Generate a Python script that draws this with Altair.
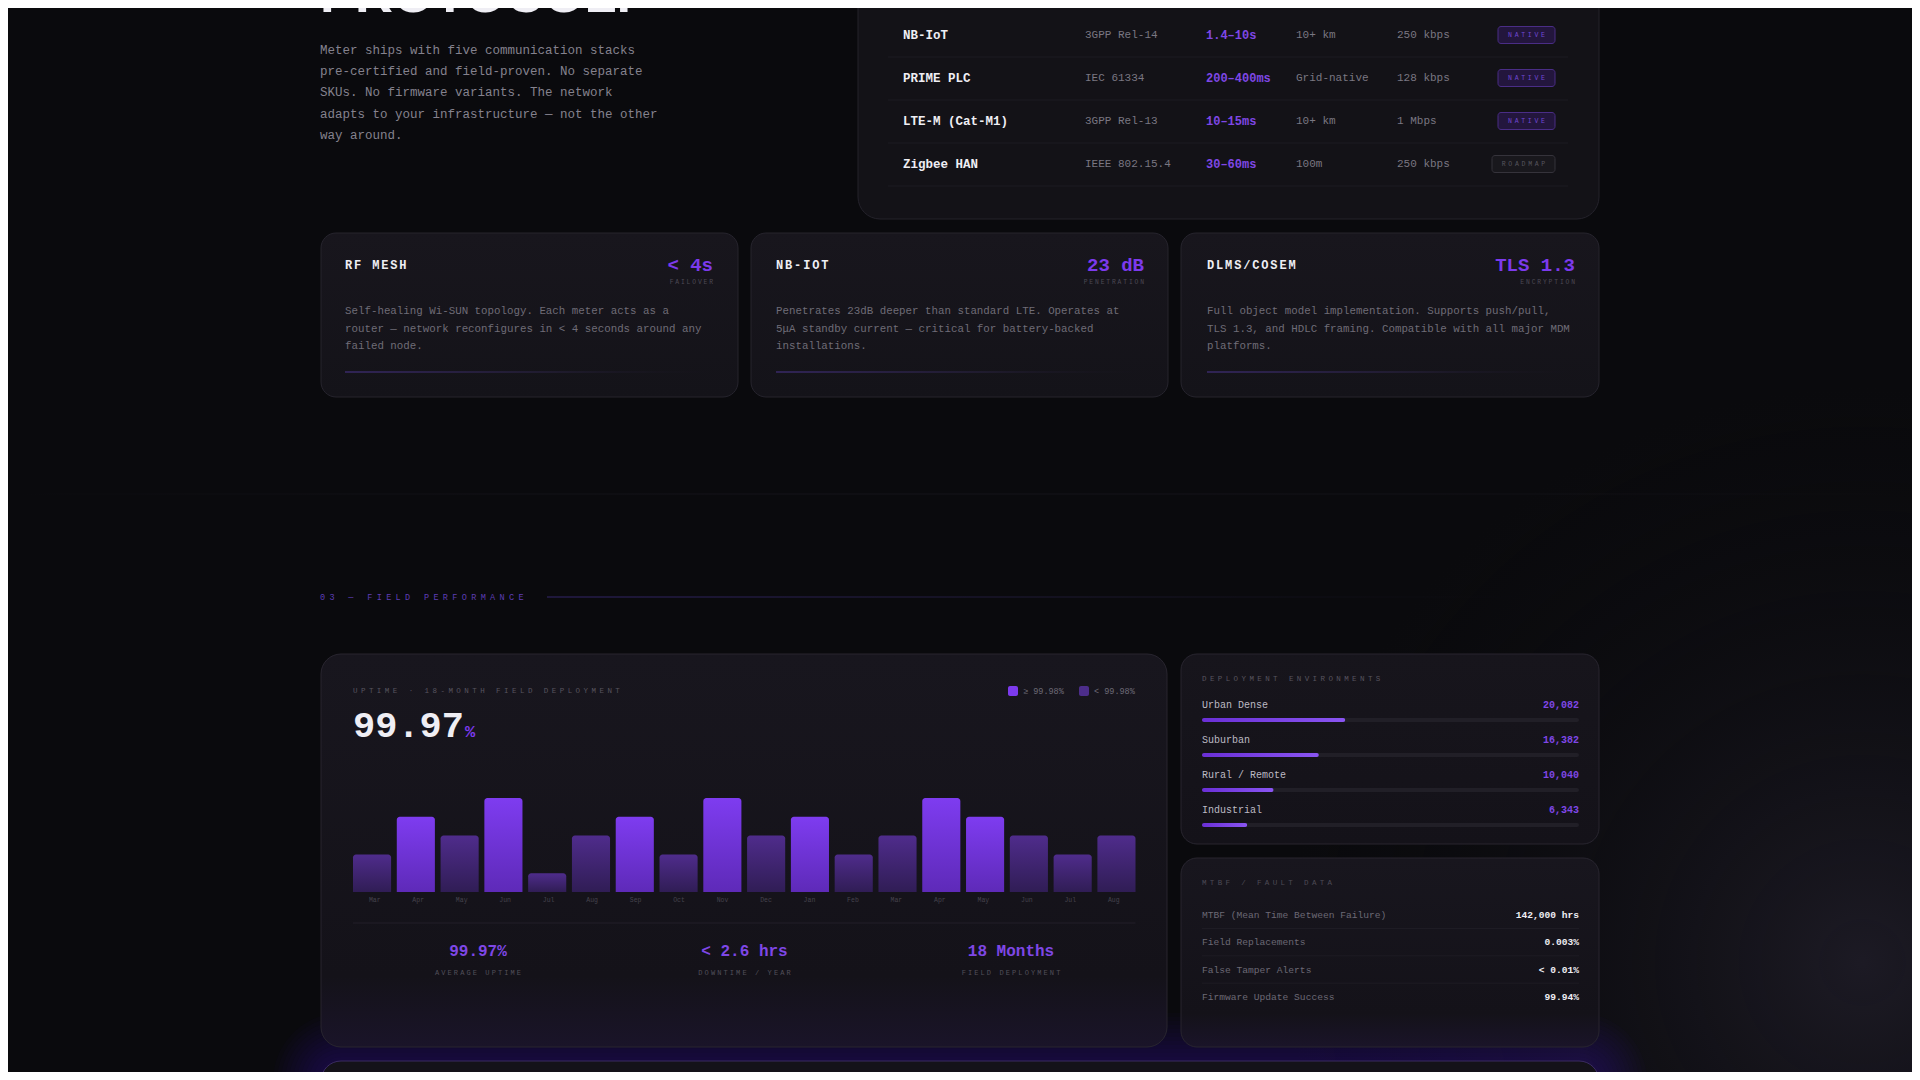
import altair as alt
import pandas as pd

# ---------------- data ----------------
intro_lines = [
    "Meter ships with five communication stacks",
    "pre-certified and field-proven. No separate",
    "SKUs. No firmware variants. The network",
    "adapts to your infrastructure — not the other",
    "way around.",
]

proto_names = ["NB-IoT", "PRIME PLC", "LTE-M (Cat-M1)", "Zigbee HAN"]
proto_std = ["3GPP Rel-14", "IEC 61334", "3GPP Rel-13", "IEEE 802.15.4"]
proto_latency = ["1.4–10s", "200–400ms", "10–15ms", "30–60ms"]
proto_range = ["10+ km", "Grid-native", "10+ km", "100m"]
proto_rate = ["250 kbps", "128 kbps", "1 Mbps", "250 kbps"]
proto_status = ["NATIVE", "NATIVE", "NATIVE", "ROADMAP"]

feature_titles = ["RF MESH", "NB-IOT", "DLMS/COSEM"]
feature_values = ["< 4s", "23 dB", "TLS 1.3"]
feature_units = ["FAILOVER", "PENETRATION", "ENCRYPTION"]
feature_text = [
    ["Self-healing Wi-SUN topology. Each meter acts as a",
     "router — network reconfigures in < 4 seconds around any",
     "failed node."],
    ["Penetrates 23dB deeper than standard LTE. Operates at",
     "5μA standby current — critical for battery-backed",
     "installations."],
    ["Full object model implementation. Supports push/pull,",
     "TLS 1.3, and HDLC framing. Compatible with all major MDM",
     "platforms."],
]

months = ["Mar", "Apr", "May", "Jun", "Jul", "Aug", "Sep", "Oct", "Nov",
          "Dec", "Jan", "Feb", "Mar", "Apr", "May", "Jun", "Jul", "Aug"]
uptime = [99.96, 99.98, 99.97, 99.99, 99.95, 99.97, 99.98, 99.96, 99.99,
          99.97, 99.98, 99.96, 99.97, 99.99, 99.98, 99.97, 99.96, 99.97]
threshold = 99.98
uptime_floor = 99.94

stat_values = ["99.97%", "< 2.6 hrs", "18 Months"]
stat_labels = ["AVERAGE UPTIME", "DOWNTIME / YEAR", "FIELD DEPLOYMENT"]

env_names = ["Urban Dense", "Suburban", "Rural / Remote", "Industrial"]
env_meters = [20082, 16382, 10040, 6343]

fault_labels = ["MTBF (Mean Time Between Failure)", "Field Replacements",
                "False Tamper Alerts", "Firmware Update Success"]
fault_values = ["142,000 hrs", "0.003%", "< 0.01%", "99.94%"]

# ---------------- style ----------------
MONO = "Liberation Mono, Cousine, monospace"
SANS = "Liberation Sans, Arial, sans-serif"
BG = "#0a0a0d"
WHITE = "#efeef4"
INTRO = "#85828e"
BODY = "#6f6c77"
DIM = "#57545f"
DIMMER = "#4d4a55"
PURPLE = "#7c3aed"
PURPLE_TXT = "#7f47e6"
CARD_STROKE = "#26242d"

ONE = pd.DataFrame({"k": [0]})


def P(v):
    # page pixel -> canvas pixel (page has an 8px margin)
    return v - 8


def vgrad(stops):
    return alt.LinearGradient(gradient="linear", x1=0, x2=0, y1=0, y2=1,
                              stops=[alt.GradientStop(color=c, offset=o) for o, c in stops])


def hgrad(stops):
    return alt.LinearGradient(gradient="linear", x1=0, x2=1, y1=0, y2=0,
                              stops=[alt.GradientStop(color=c, offset=o) for o, c in stops])


def rgrad(cx, cy, r, stops):
    return alt.RadialGradient(gradient="radial", x1=cx, y1=cy, r1=0, x2=cx, y2=cy, r2=r,
                              stops=[alt.GradientStop(color=c, offset=o) for o, c in stops])


def box(x0, y0, x1, y1, fill, stroke=None, r=0, opacity=1):
    kw = dict(fill=fill, cornerRadius=r, opacity=opacity)
    if stroke:
        kw.update(stroke=stroke, strokeWidth=1)
    return alt.Chart(ONE).mark_rect(**kw).encode(
        x=alt.value(P(x0)), x2=alt.value(P(x1)), y=alt.value(P(y0)), y2=alt.value(P(y1)))


def text(s, x, y, size, color, weight="normal", align="left", font=MONO, baseline="middle"):
    return alt.Chart(pd.DataFrame({"t": [s]})).mark_text(
        align=align, baseline=baseline, font=font, fontSize=size, fontWeight=weight, color=color
    ).encode(x=alt.value(P(x)), y=alt.value(P(y)), text="t:N")


def spaced(s, x, y, size, pitch, color, weight="normal", align="left"):
    # letter-spaced label, one glyph per row
    width = (len(s) - 1) * pitch + 0.6 * size
    x0 = x if align == "left" else (x - width if align == "right" else x - width / 2)
    df = pd.DataFrame({"ch": list(s), "px": [P(x0 + i * pitch) for i in range(len(s))]})
    return alt.Chart(df).mark_text(
        align="left", baseline="middle", font=MONO, fontSize=size, fontWeight=weight, color=color
    ).encode(x=alt.X("px:Q", scale=None, axis=None), y=alt.value(P(y)), text="ch:N")


layers = []

# page background glow + section hairline
layers.append(box(0, 0, 1920, 1080, fill=rgrad(0.97, 0.72, 0.3, [
    (0, "rgba(36,33,46,0.7)"), (1, "rgba(10,10,13,0)")])))
layers.append(box(0, 493.5, 1920, 494.5, fill=hgrad(
    [(0, "rgba(30,28,38,0)"), (0.5, "#141319"), (1, "rgba(30,28,38,0)")])))

# headline + intro
layers.append(text("PROTOCOL.", 320, 12, 52.5, WHITE, "bold", font=SANS, baseline="alphabetic"))
for j, line in enumerate(intro_lines):
    layers.append(text(line, 320, 50 + j * 21.2, 12.5, INTRO))

# ---------------- protocol table ----------------
layers.append(box(858, -40, 1599, 219, fill="#131217", stroke="#24222b", r=22))
layers.append(box(1497, -16, 1555, 2, fill="#23163d", stroke="#4a2d86", r=3))

proto_df = pd.DataFrame({"proto": proto_names, "std": proto_std, "lat": proto_latency,
                         "rng": proto_range, "rate": proto_rate, "status": proto_status})
row_y = alt.Y("proto:N", axis=None, scale=alt.Scale(
    type="point", domain=proto_names, range=[P(35), P(164)], padding=0))


def col(field, x, size, color, weight="normal"):
    return alt.Chart(proto_df).mark_text(
        align="left", baseline="middle", font=MONO, fontSize=size, fontWeight=weight, color=color
    ).encode(x=alt.value(P(x)), y=row_y, text=f"{field}:N")


badge_rows = []
for name, status in zip(proto_names, proto_status):
    xc = 1526.5 if status == "NATIVE" else 1523.5
    pitch = 6.6
    x0 = xc - ((len(status) - 1) * pitch + 3.9) / 2
    for i, c in enumerate(status):
        badge_rows.append({"proto": name, "status": status, "ch": c, "px": P(x0 + i * pitch)})
badge_df = pd.DataFrame(badge_rows)

is_native = alt.datum.status == "NATIVE"
layers += [
    alt.Chart(proto_df).mark_rule(color="#1d1b23", strokeWidth=1, yOffset=22).encode(
        x=alt.value(P(888)), x2=alt.value(P(1568)), y=row_y),
    col("proto", 903, 12.5, WHITE, "bold"),
    col("std", 1085, 11, "#7a7782"),
    col("lat", 1206, 12, PURPLE_TXT, "bold"),
    col("rng", 1296, 11, "#7a7782"),
    col("rate", 1397, 11, "#7a7782"),
    alt.Chart(proto_df).mark_bar(size=17, cornerRadius=3, fill="#23163d", stroke="#4a2d86",
                                 strokeWidth=1, orient="horizontal").encode(
        x=alt.value(P(1498)), x2=alt.value(P(1555)), y=row_y).transform_filter(is_native),
    alt.Chart(proto_df).mark_bar(size=17, cornerRadius=3, fill="#19181d", stroke="#35333b",
                                 strokeWidth=1, orient="horizontal").encode(
        x=alt.value(P(1492)), x2=alt.value(P(1555)), y=row_y).transform_filter(~is_native),
    alt.Chart(badge_df).mark_text(align="left", baseline="middle", font=MONO, fontSize=6.5).encode(
        x=alt.X("px:Q", scale=None, axis=None), y=row_y, text="ch:N",
        color=alt.condition(is_native, alt.value("#7048d2"), alt.value("#57555d"))),
]

# ---------------- feature cards ----------------
card_l = [321, 751, 1181]
card_r = [738, 1168, 1599]
title_x = [345, 776, 1207]
value_r = [713, 1144, 1575]
for i in range(3):
    layers.append(box(card_l[i], 233, card_r[i], 397,
                      fill=vgrad([(0, "#18161d"), (1, "#141319")]), stroke=CARD_STROKE, r=15))
    layers.append(spaced(feature_titles[i], title_x[i], 265, 12, 9.05, WHITE, "bold"))
    layers.append(text(feature_values[i], value_r[i], 265, 19, PURPLE, "bold", align="right"))
    layers.append(spaced(feature_units[i], value_r[i], 282, 6.3, 5.65, DIMMER, align="right"))
    for j, line in enumerate(feature_text[i]):
        layers.append(text(line, title_x[i], 311 + j * 17.5, 10.8, BODY))
    layers.append(box(title_x[i], 371.5, title_x[i] + 380, 372.5, fill=hgrad(
        [(0, "#4b3490"), (0.55, "#2a2342"), (1, "rgba(22,20,27,0)")])))

# ---------------- section label ----------------
layers.append(spaced("03 — FIELD PERFORMANCE", 320, 597, 8.5, 9.45, "#5d3db5"))
layers.append(box(547, 596.5, 1600, 597.5, fill=hgrad(
    [(0, "#33256a"), (0.5, "#1c1830"), (1, "rgba(10,10,13,0)")])))

# ---------------- bottom card with soft purple halo ----------------
for k in range(1, 13):
    g = 4 * k
    layers.append(box(321 - g, 1061 - g, 1599 + g, 1140 + g, fill="#7c3aed",
                      r=20 + g, opacity=0.018))
layers.append(box(321, 1061, 1599, 1140, fill="#141219", stroke="#3a2b62", r=20))

card_fill = vgrad([(0, "#18161e"), (0.82, "#141219"), (1, "#1a1429")])
layers.append(box(321, 654, 1167, 1047, fill=card_fill, stroke="#28252f", r=20))
layers.append(box(1181, 654, 1599, 844, fill=vgrad([(0, "#17151c"), (1, "#141219")]),
                  stroke="#28252f", r=16))
layers.append(box(1181, 858, 1599, 1047, fill=card_fill, stroke="#28252f", r=16))

# ---------------- uptime card ----------------
layers.append(spaced("UPTIME · 18-MONTH FIELD DEPLOYMENT", 353, 691, 7.5, 7.95, DIM))
hero = f"{sum(uptime) / len(uptime):.2f}"
layers.append(text(hero, 353, 737, 37, WHITE, "bold", baseline="alphabetic"))
layers.append(text("%", 465, 737, 17, PURPLE, "bold", baseline="alphabetic"))

layers.append(box(1008, 686, 1018, 696, fill=PURPLE, r=2))
layers.append(text(f"≥ {threshold:.2f}%", 1023, 691, 8.5, "#6d6a76"))
layers.append(box(1079, 686, 1089, 696, fill="#4c2d8a", r=2))
layers.append(text(f"< {threshold:.2f}%", 1094, 691, 8.5, "#6d6a76"))

bars_df = pd.DataFrame({"idx": list(range(len(months))), "month": months, "uptime": uptime})
xb = alt.X("idx:O", axis=None, scale=alt.Scale(
    domain=list(range(len(months))), range=[P(353), P(1135.5)], paddingInner=0.13, paddingOuter=0))
yb = alt.Y("uptime:Q", axis=None, scale=alt.Scale(
    domain=[uptime_floor, 99.99], range=[P(892), P(798)]))
bar_base = alt.Chart(bars_df)
layers += [
    bar_base.mark_bar(cornerRadiusTopLeft=3, cornerRadiusTopRight=3,
                      fill=vgrad([(0, "#7e3cf0"), (1, "#5e2ab8")])).encode(
        x=xb, y=yb, y2=alt.datum(uptime_floor)).transform_filter(alt.datum.uptime >= threshold),
    bar_base.mark_bar(cornerRadiusTopLeft=3, cornerRadiusTopRight=3,
                      fill=vgrad([(0, "#4f2c8c"), (1, "#301d55")])).encode(
        x=xb, y=yb, y2=alt.datum(uptime_floor)).transform_filter(alt.datum.uptime < threshold),
    bar_base.mark_text(baseline="middle", font=MONO, fontSize=6.5, color="#46434e").encode(
        x=xb, y=alt.value(P(900)), text="month:N"),
]

layers.append(box(353, 922.5, 1135.5, 923.5, fill="#221f29"))
stats_df = pd.DataFrame({"stat": stat_values})
layers.append(alt.Chart(stats_df).mark_text(
    align="center", baseline="middle", font=MONO, fontSize=16, fontWeight="bold", color=PURPLE_TXT
).encode(
    x=alt.X("stat:N", axis=None, scale=alt.Scale(
        type="point", domain=stat_values, range=[P(478), P(1011)], padding=0)),
    y=alt.value(P(951)), text="stat:N"))
for c, lab in zip([478, 744.5, 1011], stat_labels):
    layers.append(spaced(lab, c, 973, 7, 6.3, "#52505a", align="center"))

# ---------------- deployment environments ----------------
layers.append(spaced("DEPLOYMENT ENVIRONMENTS", 1202, 679, 7.5, 7.9, DIM))
env_total = sum(env_meters)
env_df = pd.DataFrame({"env": env_names, "meters": env_meters, "total": [env_total] * len(env_names)})
env_scale = alt.Scale(domain=[0, env_total], range=[P(1202), P(1579)])
ye = alt.Y("env:N", axis=None, scale=alt.Scale(
    type="point", domain=env_names, range=[P(720), P(825)], padding=0))
layers += [
    alt.Chart(env_df).mark_bar(size=4, cornerRadius=2, fill="#211f27", orient="horizontal").encode(
        x=alt.X("total:Q", axis=None, scale=env_scale), y=ye),
    alt.Chart(env_df).mark_bar(size=4, cornerRadius=2, orient="horizontal",
                               fill=hgrad([(0, "#6a2fd6"), (1, "#8a55f2")])).encode(
        x=alt.X("meters:Q", axis=None, scale=env_scale), y=ye),
    alt.Chart(env_df).mark_text(align="left", baseline="middle", dy=-15, font=MONO,
                                fontSize=10, color="#bdbac4").encode(
        x=alt.value(P(1202)), y=ye, text="env:N"),
    alt.Chart(env_df).mark_text(align="right", baseline="middle", dy=-15, font=MONO,
                                fontSize=10, fontWeight="bold", color=PURPLE_TXT).encode(
        x=alt.value(P(1579)), y=ye, text=alt.Text("meters:Q", format=",")),
]

# ---------------- MTBF / fault data ----------------
layers.append(spaced("MTBF / FAULT DATA", 1202, 883, 7.5, 7.85, DIMMER))
fault_df = pd.DataFrame({"fault": fault_labels, "value": fault_values})
fy = alt.Y("fault:N", axis=None, scale=alt.Scale(
    type="point", domain=fault_labels, range=[P(915), P(997)], padding=0))
layers += [
    alt.Chart(fault_df).mark_rule(color="#1e1c24", strokeWidth=1, yOffset=13.5).encode(
        x=alt.value(P(1202)), x2=alt.value(P(1579)), y=fy
    ).transform_filter(alt.datum.fault != fault_labels[-1]),
    alt.Chart(fault_df).mark_text(align="left", baseline="middle", font=MONO,
                                  fontSize=9.6, color="#6c6975").encode(
        x=alt.value(P(1202)), y=fy, text="fault:N"),
    alt.Chart(fault_df).mark_text(align="right", baseline="middle", font=MONO,
                                  fontSize=9.6, fontWeight="bold", color=WHITE).encode(
        x=alt.value(P(1579)), y=fy, text="value:N"),
]

chart = alt.layer(*layers).resolve_scale(
    x="independent", y="independent"
).properties(
    width=1904, height=1064, padding=0, background=BG,
    autosize=alt.AutoSizeParams(type="none"),
).configure_view(strokeWidth=0)

chart.save("out.html", embed_options={"renderer": "svg", "actions": False})
